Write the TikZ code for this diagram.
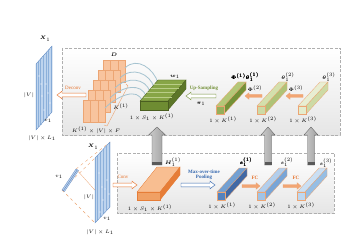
\documentclass[tikz,border=0pt]{standalone}
\usepackage{amsmath}
\usepackage{fontspec}
\setmainfont{Liberation Serif}
\usepackage{tikz}
\usetikzlibrary{calc}

\definecolor{arrowOrange}{RGB}{230, 115, 45}
\definecolor{lineOrange}{RGB}{236, 165, 115}
\definecolor{fillOrange}{RGB}{242, 165, 115}
\definecolor{blockOrange}{RGB}{248, 196, 158}
\definecolor{upGreen}{RGB}{118, 146, 60}
\definecolor{poolBlue}{RGB}{55, 105, 175}
\definecolor{planeBlue}{RGB}{140, 176, 218}
\definecolor{stripeLight}{RGB}{190, 212, 238}
\definecolor{stripeBlue}{RGB}{100, 140, 195}
\definecolor{arcBlue}{RGB}{165, 195, 208}
\definecolor{boxGray}{RGB}{175, 175, 175}
% decoder bars
\definecolor{thFrontA}{RGB}{150, 175, 90}
\definecolor{thTopA}{RGB}{180, 200, 120}
\definecolor{thSideA}{RGB}{115, 145, 55}
\definecolor{thFrontB}{RGB}{205, 218, 165}
\definecolor{thTopB}{RGB}{212, 224, 172}
\definecolor{thSideB}{RGB}{175, 195, 120}
\definecolor{thFrontC}{RGB}{228, 236, 205}
\definecolor{thTopC}{RGB}{232, 238, 210}
\definecolor{thSideC}{RGB}{205, 218, 165}
% encoder bars
\definecolor{sFrontA}{RGB}{85, 130, 190}
\definecolor{sTopA}{RGB}{115, 160, 210}
\definecolor{sSideA}{RGB}{65, 105, 165}
\definecolor{sFrontB}{RGB}{160, 195, 230}
\definecolor{sTopB}{RGB}{178, 206, 236}
\definecolor{sSideB}{RGB}{120, 165, 215}
\definecolor{sFrontC}{RGB}{190, 215, 240}
\definecolor{sTopC}{RGB}{202, 223, 243}
\definecolor{sSideC}{RGB}{150, 190, 228}
% slabs
\definecolor{wFront}{RGB}{110, 140, 50}
\definecolor{wTop}{RGB}{135, 165, 70}
\definecolor{wSide}{RGB}{92, 118, 40}
\definecolor{wStripe}{RGB}{185, 205, 135}
\definecolor{hFront}{RGB}{240, 160, 100}
\definecolor{hTop}{RGB}{248, 190, 145}
\definecolor{hSide}{RGB}{230, 125, 55}

% box: x, y (front top-left), w, h, dx, dy, front, top, side
\newcommand{\cuboid}[9]{%
  \filldraw[fill=#8, edgeline] (#1,#2) -- (#1+#3,#2) -- (#1+#3+#5,#2+#6) -- (#1+#5,#2+#6) -- cycle;
  \filldraw[fill=#9, edgeline] (#1+#3,#2) -- (#1+#3+#5,#2+#6) -- (#1+#3+#5,#2+#4+#6) -- (#1+#3,#2+#4) -- cycle;
  \filldraw[fill=#7, edgeline] (#1,#2) rectangle (#1+#3,#2+#4);
}
% arrow shape: from, to, style, shaft half width, head half width, head length
\newcommand{\blockarrow}[6]{%
  \path[#3] ($(#1)!#4!90:(#2)$)
    -- ($(#2)!#6!(#1)!#4!-90:(#1)$)
    -- ($(#2)!#6!(#1)!#5!-90:(#1)$)
    -- (#2)
    -- ($(#2)!#6!(#1)!#5!90:(#1)$)
    -- ($(#2)!#6!(#1)!#4!90:(#1)$)
    -- ($(#1)!#4!-90:(#2)$) -- cycle;
}

\begin{document}
\begin{tikzpicture}[x=1pt, y=-1pt,
    lab/.style={font=\fontsize{4}{4.5}\selectfont, inner sep=0pt},
    tag/.style={font=\fontsize{5}{5.5}\selectfont\bfseries, inner sep=0pt},
    edgeline/.style={draw=lineOrange, line width=0.3pt},
    dashbox/.style={draw=boxGray, dash pattern=on 3pt off 1.5pt, line width=0.6pt, top color=white, bottom color=black!10},
    hollow/.style={draw=#1, fill=white, line width=0.45pt},
    solid/.style={draw=lineOrange, fill=fillOrange, line width=0.3pt},
    grayup/.style={draw=gray!70!black, line width=0.3pt, left color=gray!40, right color=gray!75}]
  \useasboundingbox (0,0) rectangle (345,251);

  % Decoder and encoder boxes
  \path[dashbox] (62,48) rectangle (340,135);
  \path[dashbox] (117,153) rectangle (334,213);

  % Gray arrows from encoder to decoder
  \foreach \n/\x/\sw/\hw in {a/157/5pt/8.5pt, b/268/3.5pt/7pt, c/311/3.5pt/7pt}{
    \coordinate (g\n s) at (\x,165);
    \coordinate (g\n e) at (\x,127);
    \blockarrow{g\n s}{g\n e}{grayup}{\sw}{\hw}{8pt}
    \fill[black!65] ($(g\n s)+(-\sw,0)$) rectangle ($(g\n s)+(\sw,-3)$);
  }

  % Reconstructed matrix X_1
  \fill[planeBlue] (36,64) -- (52,46) -- (52,112) -- (36,130) -- cycle;
  \foreach \i in {1,...,9}
    \draw[stripeLight, line width=0.35pt] ({36+1.6*\i},{64-1.8*\i}) -- ++(0,66);
  \draw[stripeBlue, line width=0.3pt] (36,64) -- (52,46) -- (52,112) -- (36,130) -- cycle;
  \foreach \p in {(39,76),(41,84),(46,84),(48,93),(42,96),(50,103),(44,110)}
    \fill[white] \p circle (0.7);
  \node[lab] (X1top) at (45,39) {$\boldsymbol{X}_1$};
  \node[lab] (Vtop) at (29,95) {$|V|$};
  \node[lab] (v1top) at (48,121) {$v_1$};
  \node[lab] (VLtop) at (42,138) {$|V|\times L_1$};

  % Deconv
  \coordinate (dcs) at (86,95);
  \coordinate (dce) at (57,95);
  \blockarrow{dcs}{dce}{hollow=arrowOrange}{1.8pt}{3.8pt}{5pt}
  \node[font=\fontsize{5}{5.5}\selectfont, inner sep=0pt, text=arrowOrange] (deconv) at (73,88) {Deconv};

  % Filter tensor D
  \foreach \i in {0,...,4}{
    \filldraw[fill=blockOrange, draw=lineOrange, line width=0.3pt] ({103-5*\i},{60+10*\i}) rectangle ++(22,22);
    \draw[lineOrange, line width=0.3pt] ({110.3-5*\i},{60+10*\i}) -- ++(0,22)
      ({117.7-5*\i},{60+10*\i}) -- ++(0,22);
  }
  \draw[lineOrange, line width=0.4pt] (104,125) -- (107,126) -- (128,86) -- (126,84);
  \node[lab] (Dlab) at (114,55) {$\boldsymbol{D}$};
  \node[lab] (Kone) at (121,107) {$K^{(1)}$};
  \node[lab] (Dsize) at (96,130) {$K^{(1)}\times|V|\times F$};

  % Arcs from w_1 to D
  \foreach \i in {0,...,4}
    \draw[arcBlue, line width=0.8pt] ({125-5*\i},{68+10*\i})
      .. controls +(12,-12) and +(-4,-14) .. ({158-4*\i},{83+4.5*\i});

  % Slab w_1
  \begin{scope}[edgeline/.style={draw=wSide!80!black, line width=0.3pt}]
    \cuboid{140}{101}{28}{9}{18}{-21}{wFront}{wTop}{wSide}
  \end{scope}
  \foreach \t in {0.2,0.4,0.6,0.8}
    \draw[wStripe, line width=0.4pt] ({140+18*\t},{101-21*\t}) -- ++(28,0);
  \node[lab] (w1) at (175,77) {$\boldsymbol{w}_1$};
  \node[lab] (w1size) at (152,117) {$1\times S_1\times K^{(1)}$};

  % Up-Sampling
  \coordinate (ups) at (216,96);
  \coordinate (upe) at (186,96);
  \blockarrow{ups}{upe}{hollow=upGreen}{1.8pt}{3.8pt}{5pt}
  \node[tag, text=upGreen] (upsam) at (204,88) {Up-Sampling};
  \node[lab] (pi1) at (201,104) {$\boldsymbol{\pi}_1$};

  % Decoder bars theta
  \foreach \x/\cf/\ct/\cs in {216/thFrontA/thTopA/thSideA, 257/thFrontB/thTopB/thSideB, 298/thFrontC/thTopC/thSideC}
    \cuboid{\x}{106}{8}{8}{22}{-24}{\cf}{\ct}{\cs}
  \node[lab] (th1) at (245,77) {$\boldsymbol{\Phi}^{(1)}\boldsymbol{\theta}_1^{(1)}$};
  \node[lab] (th2) at (288,77) {$\boldsymbol{\theta}_1^{(2)}$};
  \node[lab] (th3) at (329,77) {$\boldsymbol{\theta}_1^{(3)}$};
  \node[lab] (thsize1) at (223,120) {$1\times K^{(1)}$};
  \node[lab] (thsize2) at (263,120) {$1\times K^{(2)}$};
  \node[lab] (thsize3) at (303,120) {$1\times K^{(3)}$};

  % Phi arrows
  \coordinate (p2s) at (262,96);
  \coordinate (p2e) at (245,96);
  \coordinate (p3s) at (303,96);
  \coordinate (p3e) at (286,96);
  \blockarrow{p2s}{p2e}{solid}{1.5pt}{3.3pt}{4pt}
  \blockarrow{p3s}{p3e}{solid}{1.5pt}{3.3pt}{4pt}
  \node[lab] (phi2) at (255,89) {$\boldsymbol{\Phi}^{(2)}$};
  \node[lab] (phi3) at (296,89) {$\boldsymbol{\Phi}^{(3)}$};

  % Input matrix X_1 with word vector
  \coordinate (vb) at (62,190);
  \coordinate (vt) at (76,169);
  \coordinate (pl) at (95,158);
  \coordinate (pr) at (110,142);
  \coordinate (prb) at (110,207);
  \coordinate (plb) at (95,223);
  \draw[lineOrange, dashed, line width=0.4pt] (vb) -- (pl) (vt) -- (pr) (vb) -- (plb);
  \draw[lineOrange, line width=0.3pt] (vt) -- (prb);
  \filldraw[fill=stripeLight, draw=stripeBlue, line width=0.3pt] (vb) -- (vt) -- ($(vt)+(2.5,1.5)$) -- ($(vb)+(2.5,1.5)$) -- cycle;
  \draw[stripeBlue, line width=0.45pt] ($(vb)+(1.3,0.8)$) -- ($(vt)+(1.3,0.8)$);
  \fill[planeBlue] (pl) -- (pr) -- (prb) -- (plb) -- cycle;
  \foreach \i in {1,...,9}
    \draw[stripeLight, line width=0.35pt] ({95+1.5*\i},{158-1.6*\i}) -- ++(0,65);
  \draw[stripeBlue, line width=0.3pt] (pl) -- (pr) -- (prb) -- (plb) -- cycle;
  \foreach \p in {(99,173),(107,180),(102,187),(105,189),(109,194),(103,200),(100,212)}
    \fill[white] \p circle (0.7);
  \node[lab] (X1bot) at (93,147) {$\boldsymbol{X}_1$};
  \node[lab] (Vbot) at (89,197) {$|V|$};
  \node[lab] (v1bot) at (107,219) {$v_1$};
  \node[lab] (v1vec) at (59,177) {$v_1$};
  \node[lab] (VLbot) at (100,232) {$|V|\times L_1$};

  % Conv
  \coordinate (cvs) at (113,185);
  \coordinate (cve) at (137,185);
  \blockarrow{cvs}{cve}{hollow=arrowOrange}{1.8pt}{3.8pt}{5pt}
  \node[font=\fontsize{5}{5.5}\selectfont, inner sep=0pt, text=arrowOrange] (conv) at (123,177) {Conv};

  % Slab H_1
  \begin{scope}[edgeline/.style={draw=hSide, line width=0.3pt}]
    \cuboid{137}{192}{23}{8}{20}{-25}{hFront}{hTop}{hSide}
  \end{scope}
  \node[lab] (H1) at (173,162) {$\boldsymbol{H}_1^{(1)}$};
  \node[lab] (H1size) at (150,208) {$1\times S_1\times K^{(1)}$};

  % Max-over-time Pooling
  \coordinate (pls) at (181,185);
  \coordinate (ple) at (215,185);
  \blockarrow{pls}{ple}{hollow=poolBlue}{1.8pt}{3.8pt}{5pt}
  \node[tag, text=poolBlue, align=center] (pool) at (204,175) {Max-over-time\\Pooling};

  % Encoder bars s
  \foreach \x/\cf/\ct/\cs in {217/sFrontA/sTopA/sSideA, 257/sFrontB/sTopB/sSideB, 297/sFrontC/sTopC/sSideC}
    \cuboid{\x}{192}{8}{8}{22}{-24}{\cf}{\ct}{\cs}
  \node[lab] (s1) at (246,162) {$\boldsymbol{s}_1^{(1)}$};
  \node[lab] (s2) at (287,162) {$\boldsymbol{s}_1^{(2)}$};
  \node[lab] (s3) at (326,163) {$\boldsymbol{s}_1^{(3)}$};
  \node[lab] (ssize1) at (222,206) {$1\times K^{(1)}$};
  \node[lab] (ssize2) at (262,206) {$1\times K^{(2)}$};
  \node[lab] (ssize3) at (301,206) {$1\times K^{(3)}$};

  % FC arrows
  \coordinate (f1s) at (242,186);
  \coordinate (f1e) at (260,186);
  \coordinate (f2s) at (283,186);
  \coordinate (f2e) at (301,186);
  \blockarrow{f1s}{f1e}{solid}{1.5pt}{3.3pt}{4pt}
  \blockarrow{f2s}{f2e}{solid}{1.5pt}{3.3pt}{4pt}
  \node[tag, text=arrowOrange] (fc1) at (255,178) {FC};
  \node[tag, text=arrowOrange] (fc2) at (296,178) {FC};
\end{tikzpicture}
\end{document}
